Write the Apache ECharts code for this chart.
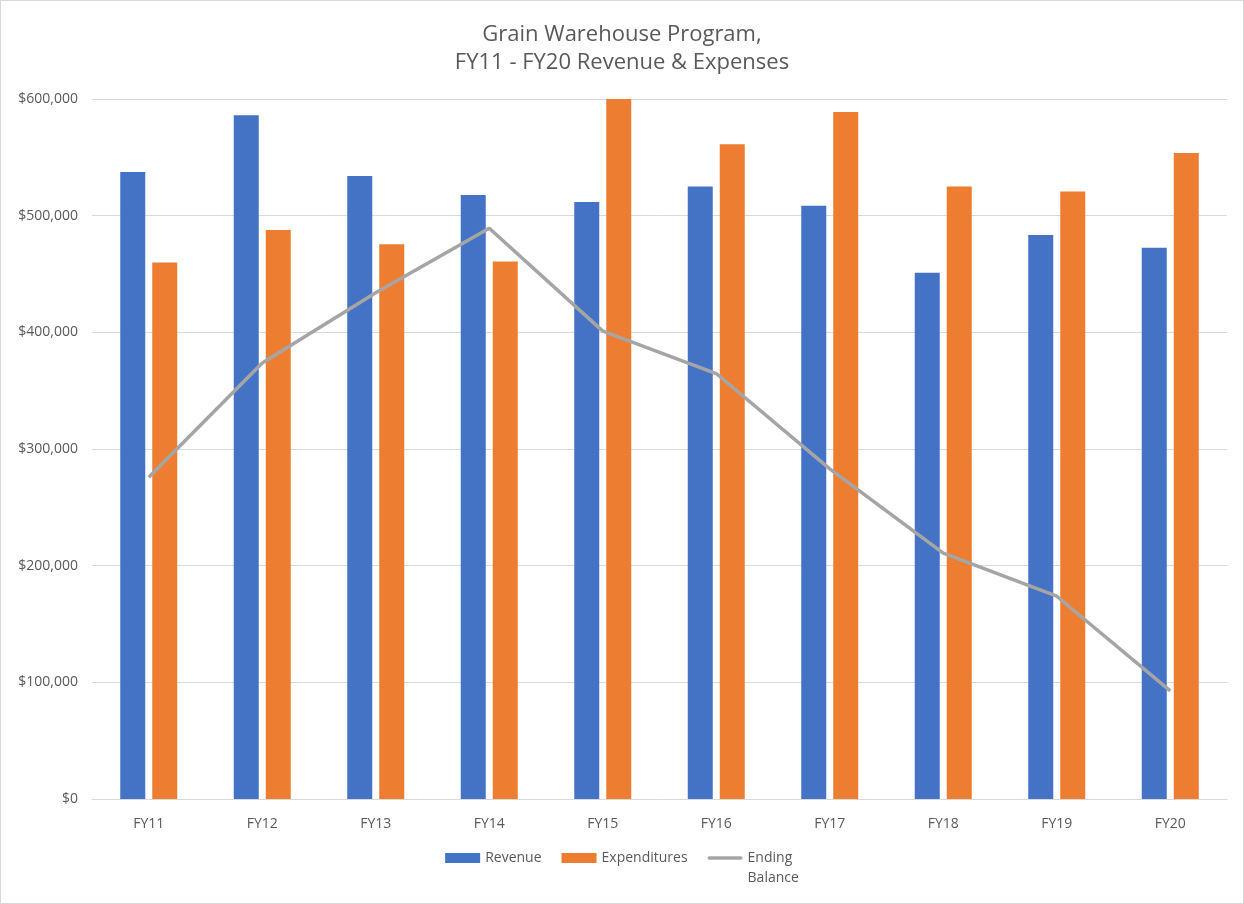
<!DOCTYPE html>
<html>
<head>
<meta charset="utf-8">
<script src="https://cdn.jsdelivr.net/npm/echarts@6/dist/echarts.min.js"></script>
<style>
html,body{margin:0;padding:0;background:#fff;}
#chart{width:1244px;height:904px;box-sizing:border-box;border:1px solid #d9d9d9;}
</style>
</head>
<body>
<div id="chart"></div>
<script>
const categories = ['FY11','FY12','FY13','FY14','FY15','FY16','FY17','FY18','FY19','FY20'];
const revenue = [537400, 586000, 534000, 517700, 511700, 525000, 508500, 451000, 483500, 472600];
const expenditures = [459800, 487800, 475500, 460700, 600300, 561300, 588900, 525000, 520800, 553800];
const endingBalance = [275800, 373800, 434000, 489200, 401000, 364700, 283000, 210800, 173800, 92600];
const yTicks = [0, 100000, 200000, 300000, 400000, 500000, 600000];

const chart = echarts.init(document.getElementById('chart'));
const txt = '#595959';
const font = '"Open Sans", "Liberation Sans", Arial, sans-serif';
chart.setOption({
  animation: false,
  textStyle: {fontFamily: font},
  title: {
    text: 'Grain Warehouse Program,\nFY11 - FY20 Revenue & Expenses',
    left: 'center',
    top: 15,
    textStyle: {color: txt, fontSize: 22, fontWeight: 'normal', lineHeight: 28, fontFamily: font}
  },
  legend: {
    top: 822,
    left: 'center',
    itemWidth: 35,
    itemHeight: 10,
    itemGap: 20,
    textStyle: {color: txt, fontSize: 14, lineHeight: 20},
    formatter: function(name){ return name === 'Ending Balance' ? ' \nEnding\nBalance' : name; },
    data: [
      {name: 'Revenue', icon: 'rect'},
      {name: 'Expenditures', icon: 'rect'},
      {name: 'Ending Balance', icon: 'path://M2,0 L38,0 A2,2 0 0 1 38,4 L2,4 A2,2 0 0 1 2,0 Z'}
    ]
  },
  grid: {left: 91, right: 16, top: 98, bottom: 104, containLabel: false},
  xAxis: {
    type: 'category',
    data: categories,
    axisLine: {lineStyle: {color: '#d9d9d9', width: 1}},
    axisTick: {show: false},
    axisLabel: {color: txt, fontSize: 14, margin: 18}
  },
  yAxis: {
    type: 'value',
    min: yTicks[0],
    max: yTicks[yTicks.length - 1],
    interval: 100000,
    axisLine: {show: false},
    axisTick: {show: false},
    splitLine: {lineStyle: {color: '#d9d9d9', width: 1}},
    axisLabel: {
      color: txt, fontSize: 14, margin: 14,
      formatter: function(v){ return '$' + v.toLocaleString('en-US'); }
    }
  },
  series: [
    {name: 'Revenue', type: 'bar', data: revenue, barWidth: 25, barGap: '28%',
     itemStyle: {color: '#4472C4'}},
    {name: 'Expenditures', type: 'bar', data: expenditures, barWidth: 25, barGap: '28%',
     itemStyle: {color: '#ED7D31'}},
    {name: 'Ending Balance', type: 'line', data: endingBalance, symbol: 'none',
     lineStyle: {color: '#A5A5A5', width: 3.5}, itemStyle: {color: '#A5A5A5'}, z: 5}
  ]
});
</script>
</body>
</html>
